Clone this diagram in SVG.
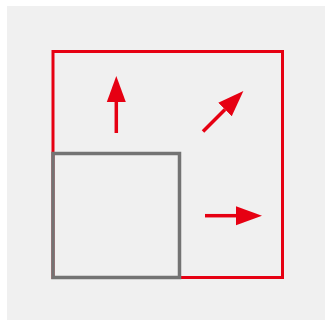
<svg xmlns="http://www.w3.org/2000/svg" width="325" height="320" viewBox="0 0 325 320">
<style>
.red{fill:none;stroke:#e60012;stroke-width:3}
.gray{fill:none;stroke:#737373;stroke-width:3.5}
.arr{stroke:#e60012;stroke-width:3.5;fill:none}
</style>
<defs>
<marker id="ah" markerUnits="userSpaceOnUse" markerWidth="28" markerHeight="22" viewBox="0 -11 28 22" refX="0" refY="0" orient="auto">
<path d="M0,-9.5 L26,0 L0,9.5 z" fill="#e60012"/>
</marker>
</defs>
<rect x="7" y="6" width="318" height="314" fill="#f0f0f0"/>
<g id="outer"><rect class="red" x="53" y="51.5" width="229.5" height="226"/></g>
<g id="inner"><rect class="gray" x="53" y="153.5" width="126.5" height="124"/></g>
<g id="connectors">
<line class="arr" x1="116.3" y1="133" x2="116.3" y2="102" marker-end="url(#ah)"/>
<line class="arr" x1="203" y1="131.5" x2="225" y2="109.5" marker-end="url(#ah)"/>
<line class="arr" x1="205" y1="215.7" x2="236" y2="215.7" marker-end="url(#ah)"/>
</g>
</svg>
